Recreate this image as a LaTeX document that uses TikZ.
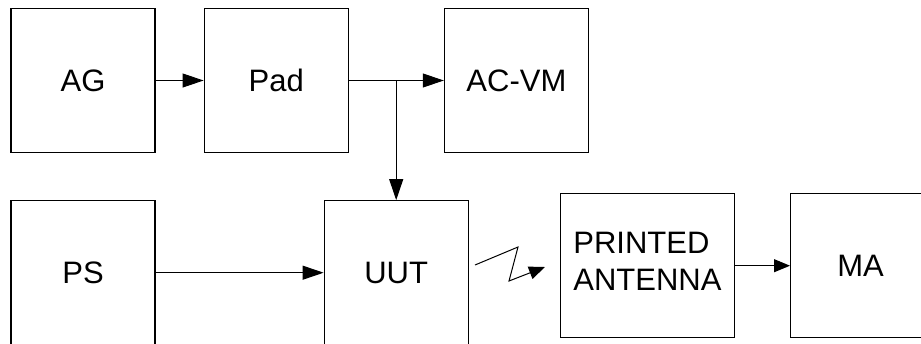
\documentclass[tikz,border=0pt]{standalone}
\usepackage{fontspec}
\setmainfont{Liberation Sans}
\usetikzlibrary{arrows.meta, positioning}

\begin{document}
\begin{tikzpicture}[
  x=0.5pt, y=-0.5pt,
  node distance=24pt,
  blk/.style={
    draw, line width=0.6pt,
    minimum width=72pt, minimum height=72pt,
    inner sep=0pt, font=\fontsize{15.5}{18.5}\selectfont
  },
  arr/.style={-{Triangle[length=10.5pt, width=7pt]}, line width=0.5pt},
  arrs/.style={-{Triangle[length=8pt, width=6.5pt]}, line width=0.5pt}
]
\useasboundingbox (0,0) rectangle (921,343);

\node[blk] (ag) at (83,80.5) {AG};
\node[blk, right=of ag] (pad) {Pad};
\node[blk, right=47.5pt of pad] (acvm) {AC-VM};
\node[blk, below=23.5pt of ag] (ps) {PS};
\node[blk, right=84pt of ps] (uut) {UUT};
\node[blk, right=45.5pt of uut, yshift=3.5pt, minimum width=87pt,
  align=left, text depth=4pt] (ant) {PRINTED\\ANTENNA};
\node[blk, right=27.5pt of ant, minimum width=70pt] (ma) {MA};

\coordinate (split) at (uut.north |- pad.east);
\coordinate (z0) at (475,265);
\coordinate (z1) at (518,247);
\coordinate (z2) at (509,281);
\coordinate (z3) at (545,267);

\draw[arr] (ag) -- (pad);
\draw[arr] (pad) -- (acvm);
\draw[arr] (split) -- (uut);
\draw[arr] (ps) -- (uut);
\draw[arrs] (z0) -- (z1) -- (z2) -- (z3);
\draw[arrs] (ant) -- (ma);

\end{tikzpicture}
\end{document}
